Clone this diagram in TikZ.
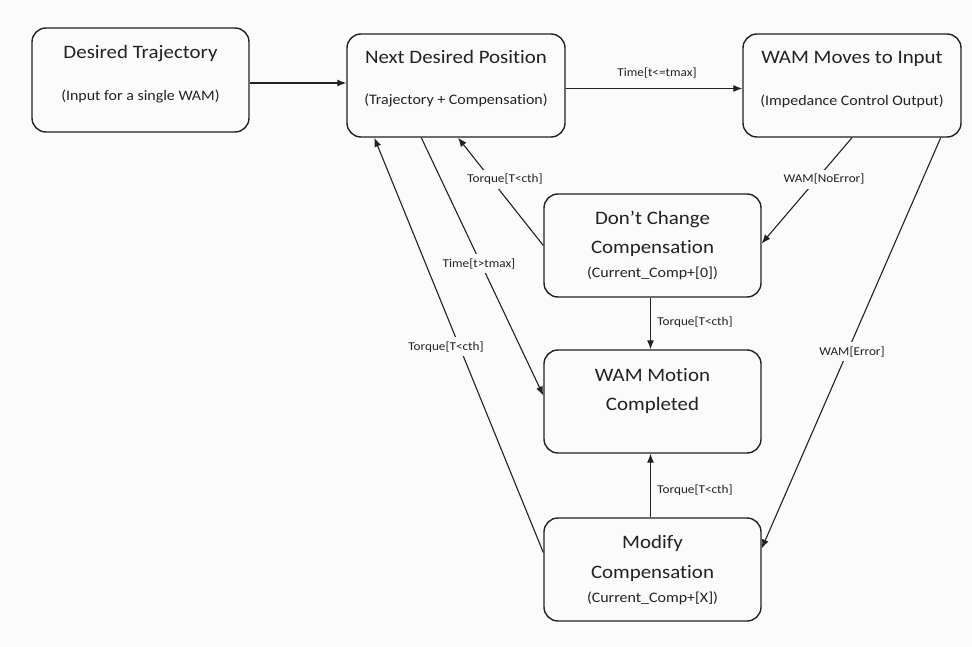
\documentclass[tikz,border=0pt]{standalone}
\usepackage{fontspec}
\setmainfont[FakeStretch=1.1,Ligatures=NoCommon]{Carlito}
\usetikzlibrary{arrows.meta,calc}
\definecolor{paper}{HTML}{FBFBFB}
\definecolor{ink}{HTML}{222222}

\begin{document}
\begin{tikzpicture}[x=1pt,y=-1pt,
  state/.style={draw=ink,line width=1.4pt,rounded corners=14pt,
    minimum width=217pt,minimum height=103pt,inner sep=0pt},
  title/.style={font=\fontsize{19}{22}\selectfont,text=ink,inner sep=0pt,anchor=base},
  sub/.style={font=\fontsize{14.5}{17}\selectfont,text=ink,inner sep=0pt,anchor=base},
  tag/.style={font=\fontsize{12}{14}\selectfont,text=ink,inner sep=0pt,anchor=base},
  gap/.style={tag,fill=paper,inner sep=4pt},
  flow/.style={draw=ink,line width=1.1pt,-{Latex[length=9pt,width=7pt]}}]

% page
\fill[paper] (0,0) rectangle (972,647);
\useasboundingbox (0,0) rectangle (972,647);

% states
\node[state,minimum height=104pt] (traj) at (140.5,80) {};
\node[state,minimum width=218pt] (pos) at (456,85.5) {};
\node[state,minimum width=218pt] (wam) at (852,85.5) {};
\node[state] (keep) at (652.5,245.5) {};
\node[state] (done) at (652.5,401.5) {};
\node[state] (modify) at (652.5,569.5) {};

% state texts
\node[title] (trajT) at (140.5,59) {Desired Trajectory};
\node[sub]   (trajS) at (140.5,101) {(Input for a single WAM)};
\node[title] (posT)  at (456,64) {Next Desired Position};
\node[sub]   (posS)  at (456,105) {(Trajectory + Compensation)};
\node[title] (wamT)  at (852,64) {WAM Moves to Input};
\node[sub]   (wamS)  at (852,106) {(Impedance Control Output)};
\node[title] (keepT1) at (652.5,225) {Don’t Change};
\node[title] (keepT2) at (652.5,254) {Compensation};
\node[sub]   (keepS)  at (652.5,277) {(Current\_Comp+[0])};
\node[title] (doneT1) at (652.5,381) {WAM Motion};
\node[title] (doneT2) at (652.5,410) {Completed};
\node[title] (modT1) at (652.5,548) {Modify};
\node[title] (modT2) at (652.5,578) {Compensation};
\node[sub]   (modS)  at (652.5,602) {(Current\_Comp+[X])};

% transitions
\draw[flow] ($(traj.east)+(0,3)$) -- ($(traj.east -| pos.west)+(0,3)$);
\draw[flow] ($(pos.east)+(0,3)$) -- ($(pos.east -| wam.west)+(0,3)$);
\draw[flow] (wam.south) -- ($(keep.east)+(0,-2)$);
\draw[flow] ($(wam.south east)+(-21,0)$) -- ($(modify.east)+(0,-21)$);
\draw[flow] (keep.west) -- ($(pos.south)+(2,0)$);
\draw[flow] ($(pos.south west)+(75,0)$) -- ($(done.west)+(0,-6)$);
\draw[flow] ($(modify.west)+(0,-17)$) -- ($(pos.south west)+(28,0)$);
\draw[flow] ($(keep.south)+(-2,0)$) -- ($(done.north)+(-2,0)$);
\draw[flow] ($(modify.north)+(-2,0)$) -- ($(done.south)+(-2,0)$);

% transition labels
\node[tag] (lRun)   at (657,77)  {Time[t<=tmax]};
\node[gap] (lOk)    at (824,183) {WAM[NoError]};
\node[gap] (lErr)   at (852,355) {WAM[Error]};
\node[gap] (lBack1) at (505,183) {Torque[T<cth]};
\node[gap] (lLate)  at (479,267) {Time[t>tmax]};
\node[gap] (lBack2) at (446,350) {Torque[T<cth]};
\node[tag] (lDone1) at (695,325) {Torque[T<cth]};
\node[tag] (lDone2) at (695,493) {Torque[T<cth]};
\end{tikzpicture}
\end{document}
